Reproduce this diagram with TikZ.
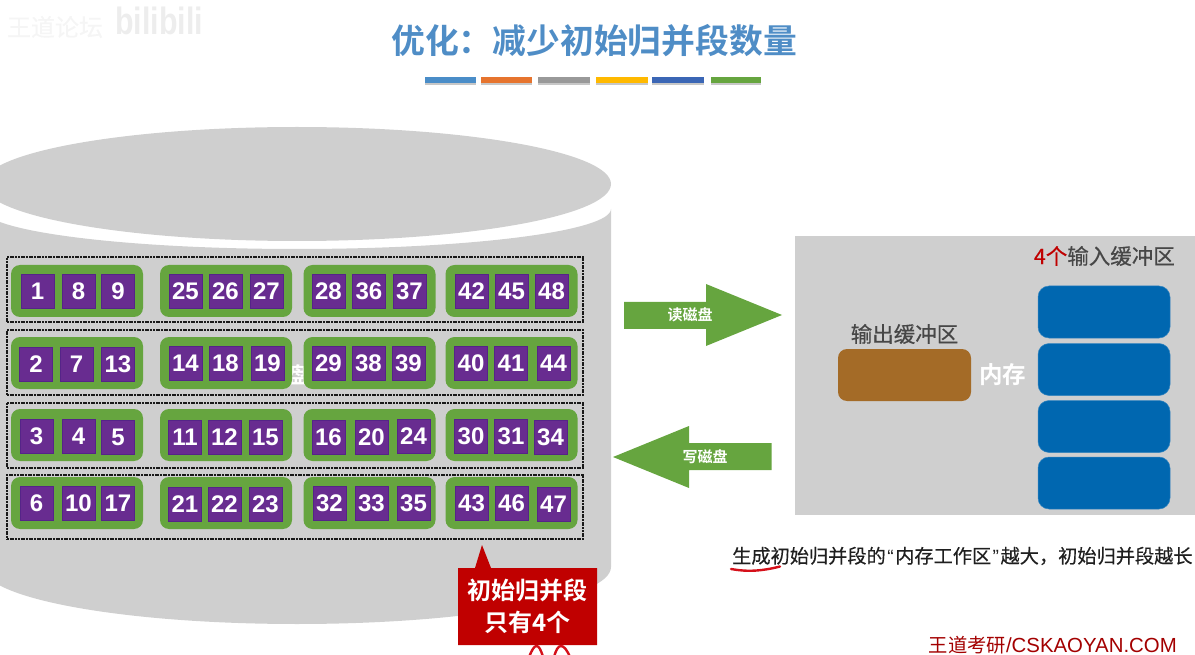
\documentclass[tikz,border=0pt]{standalone}
\usepackage{fontspec}
\setmainfont{Liberation Sans}
\newfontfamily\cjk{Noto Sans CJK SC}
\newfontfamily\cjkm[FakeBold=0.35]{Noto Sans CJK SC}
\newfontfamily\cjkb{Noto Sans CJK SC Bold}
\newfontfamily\numf{Liberation Sans Bold}
\newcommand{\fs}[1]{\fontsize{#1}{#1}\selectfont}
\definecolor{diskgray}{HTML}{CFCFCF}
\definecolor{rungreen}{HTML}{66A53F}
\definecolor{cellpurple}{HTML}{682C90}
\definecolor{cellborder}{HTML}{552488}
\definecolor{bufblue}{HTML}{0067B0}
\definecolor{bufbrown}{HTML}{A46B27}
\definecolor{calloutred}{HTML}{C00000}
\definecolor{titleblue}{HTML}{4F8DC6}
\definecolor{inkred}{HTML}{D5101A}
\tikzset{
  cell/.style={draw=cellborder,line width=0.4pt,fill=cellpurple,minimum width=33pt,minimum height=34pt,inner sep=0pt,text=white,font=\numf\fs{24}},
  runbox/.style={fill=rungreen,rounded corners=9pt,minimum height=52pt,minimum width=132pt,inner sep=0pt},
  trackbox/.style={draw=black!90,line width=2pt,dash pattern=on 2pt off 0.7pt,minimum width=576pt,inner sep=0pt},
  inbuf/.style={fill=bufblue,draw=bufblue!80!white,line width=0.5pt,rounded corners=11pt,minimum width=132pt,minimum height=52pt,inner sep=0pt},
  arrowfill/.style={fill=rungreen},
  arrowtext/.style={text=white,font=\cjkb\fs{15}},
  graytext/.style={text=black!72,font=\cjkm\fs{21.5},inner sep=0pt},
}
\begin{document}
\begin{tikzpicture}[x=1pt,y=-1pt]
\useasboundingbox (0,0) rectangle (1195,655);
\clip (0,0) rectangle (1195,655);
% watermark
\node[text=black!4,font=\cjkm\fs{24}] (wm1) at (55,27) {王道论坛};
\node[text=black!7,font=\bfseries\fs{38}] (wm2) at (159,21) {\scalebox{0.8}[1]{bilibili}};
% title
\node[text=titleblue,font=\cjkb\fs{33.8}] (title) at (594,40.5) {优化：减少初始归并段数量};
% colour bars
\foreach \cx/\w/\c in {450.5/51/4A8DC8,506.5/51/E6742E,564/52/999999,622/52/FFB900,678/52/3B66B5,736/50/66A53F}{
  \fill[black!22] (\cx-\w/2,79) rectangle (\cx+\w/2,85.5);
  \definecolor{barcol}{HTML}{\c}
  \fill[barcol] (\cx-\w/2,77) rectangle (\cx+\w/2,83);
}
% disk
\fill[diskgray] (611,209) arc[start angle=0,end angle=-180,x radius=314pt,y radius=40pt]
  -- (-17,567) arc[start angle=180,end angle=360,x radius=314pt,y radius=57pt] -- cycle;
\fill[diskgray] (297,184) ellipse[x radius=314pt,y radius=57pt];
% hidden label fragment
\node[text=white,font=\cjkb\fs{22}] (frag) at (298,375) {盘};
% tracks
\node[trackbox,minimum height=65pt] (t1) at (295,290) {};
\node[trackbox,minimum height=65pt] (t2) at (295,362.5) {};
\node[trackbox,minimum height=65pt] (t3) at (295,435) {};
\node[trackbox,minimum height=64pt] (t4) at (295,507) {};
% runs
\foreach \r/\y in {1/291,2/363,3/435,4/503}{
  \node[runbox] (r\r a) at (77,\y) {};
  \node[runbox] (r\r b) at (226,\y) {};
  \node[runbox] (r\r c) at (369.5,\y) {};
  \node[runbox] (r\r d) at (511.5,\y) {};
}
% cells
\foreach \n/\x/\y in {1/37.5/291,8/78.5/291,9/118/291,25/185.5/291,26/225.5/291,27/266.5/291,28/328.5/291.5,36/369/291.5,37/409.5/291.5,42/471.5/291.5,45/511.5/291.5,48/551.5/291.5,
 2/36/364,7/76.5/364,13/118/364,14/185.5/363,18/225.5/363,19/267.5/363,29/328.5/363,38/368.5/363,39/408.5/363,40/471/363,41/511/363,44/553.5/363,
 3/36.5/436,4/78.5/436,5/118/437,11/185/437,12/224.5/437,15/265.5/437,16/328.5/437,20/371.5/437,24/413.5/436,30/471/436,31/511/436,34/550.5/437,
 6/36.5/503,10/78.5/503,17/118/503,21/185/504,22/224.5/504,23/265.5/504,32/329.5/503,33/371.5/503,35/413.5/503,43/471.5/503,46/511.5/503,47/553.5/504}{
  \node[cell] (c\n) at (\x,\y) {\n};
}
% callout
\fill[calloutred] (458,568) -- (475,568) -- (482,545) -- (491,568) -- (597,568) -- (597,645) -- (458,645) -- cycle;
\node[text=white,font=\cjkb\fs{24}] (cl1) at (527.5,590) {初始归并段};
\node[text=white,font=\cjkb\fs{24}] (cl2) at (527.5,622) {只有4个};
% red marks below the callout
\draw[inkred,line width=2.4pt,line cap=round] (529,657) .. controls (532,650) and (534,646) .. (536.5,646) .. controls (539,646) and (541,650) .. (543,657);
\draw[inkred,line width=2.4pt,line cap=round] (554,657) .. controls (556,650) and (558,646) .. (561,646) .. controls (564,646) and (567,650) .. (570,657);
% arrows
\fill[arrowfill] (624,302) -- (706,302) -- (706,284) -- (782,315) -- (706,346) -- (706,329) -- (624,329) -- cycle;
\node[arrowtext] (rd) at (690,315) {读磁盘};
\fill[arrowfill] (613,457) -- (689,426) -- (689,443) -- (771.5,443) -- (771.5,470) -- (689,470) -- (689,488) -- cycle;
\node[arrowtext] (wr) at (705,457) {写磁盘};
% memory panel
\node[fill=diskgray,minimum width=400pt,minimum height=279pt,inner sep=0pt,anchor=north west] (mem) at (795,236) {};
\node[text=white,font=\cjkb\fs{23.5}] (memlabel) at (1002.5,375) {内存};
\node[fill=bufbrown,rounded corners=9pt,minimum width=133pt,minimum height=52pt,inner sep=0pt] (outbuf) at (904.5,375) {};
\node[graytext] (outlabel) at (904.5,334) {输出缓冲区};
\node[inbuf] (in1) at (1104,312) {};
\node[inbuf] (in2) at (1104,369.5) {};
\node[inbuf] (in3) at (1104,426.5) {};
\node[inbuf] (in4) at (1104,483) {};
\node[graytext,anchor=east] (inlabel) at (1175,256) {\textcolor{calloutred}{4个}输入缓冲区};
% note
\node[text=black!88,font=\cjkm\fs{19.2},anchor=west,inner sep=0pt] (note) at (732,556) {生成初始归并段的{\rmfamily\kern1.5pt “\kern1.5pt}内存工作区{\rmfamily\kern1.5pt ”\kern1.5pt}越大，初始归并段越长};
\draw[inkred,line width=2.4pt,line cap=round] (731,569) .. controls (740,570.5) and (755,573) .. (780,566.5);
% site mark
\node[text=calloutred!85!black,anchor=east,inner sep=0pt] (site) at (1177,645.5) {{\cjk\fs{19.3}王道考研}{\fs{20.4}/CSKAOYAN.COM}};
\end{tikzpicture}
\end{document}
